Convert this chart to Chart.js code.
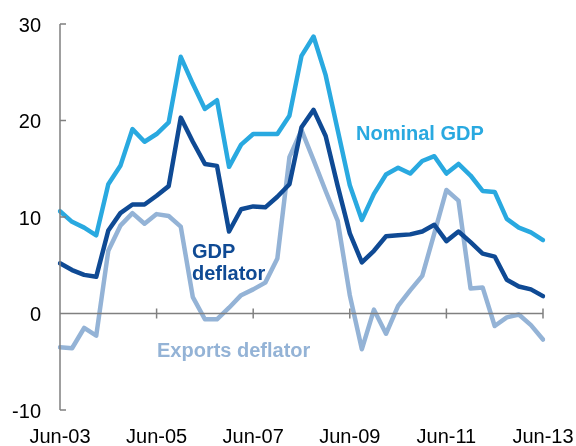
<!DOCTYPE html>
<html>
<head>
<meta charset="utf-8">
<script src="https://cdn.jsdelivr.net/npm/chart.js@4"></script>
<style>
    html, body { margin: 0; padding: 0; background: #fff; }
    #wrap { width: 576px; height: 446px; }
</style>
</head>
<body>
<div id="wrap"><canvas id="chart" width="576" height="446"></canvas></div>
<script>
const quarters = [
    'Jun-03', 'Sep-03', 'Dec-03', 'Mar-04', 'Jun-04', 'Sep-04', 'Dec-04', 'Mar-05',
    'Jun-05', 'Sep-05', 'Dec-05', 'Mar-06', 'Jun-06', 'Sep-06', 'Dec-06', 'Mar-07',
    'Jun-07', 'Sep-07', 'Dec-07', 'Mar-08', 'Jun-08', 'Sep-08', 'Dec-08', 'Mar-09',
    'Jun-09', 'Sep-09', 'Dec-09', 'Mar-10', 'Jun-10', 'Sep-10', 'Dec-10', 'Mar-11',
    'Jun-11', 'Sep-11', 'Dec-11', 'Mar-12', 'Jun-12', 'Sep-12', 'Dec-12', 'Mar-13',
    'Jun-13'
]

const nominalGdp = [
    10.6, 9.5, 8.9, 8.1, 13.4, 15.3, 19.1, 17.8, 18.6, 19.8,
    26.6, 23.8, 21.2, 22.1, 15.2, 17.5, 18.6, 18.6, 18.6, 20.5,
    26.7, 28.7, 24.7, 19.0, 13.3, 9.7, 12.4, 14.4, 15.1, 14.5,
    15.8, 16.3, 14.5, 15.5, 14.3, 12.7, 12.6, 9.8, 8.9, 8.4,
    7.6
]

const gdpDeflator = [
    5.2, 4.5, 4.0, 3.8, 8.6, 10.4, 11.3, 11.3, 12.2, 13.2,
    20.3, 17.8, 15.5, 15.3, 8.5, 10.8, 11.1, 11.0, 12.1, 13.4,
    19.3, 21.1, 18.4, 13.2, 8.3, 5.3, 6.5, 8.0, 8.1, 8.2,
    8.5, 9.2, 7.5, 8.5, 7.4, 6.2, 5.9, 3.5, 2.8, 2.5,
    1.8
]

const exportsDeflator = [
    -3.5, -3.6, -1.5, -2.3, 6.5, 9.1, 10.4, 9.3, 10.3, 10.1,
    9.0, 1.7, -0.6, -0.6, 0.6, 1.9, 2.5, 3.2, 5.7, 16.2,
    19.0, 15.9, 12.7, 9.6, 1.9, -3.7, 0.4, -2.1, 0.8, 2.4,
    3.9, 8.3, 12.8, 11.7, 2.6, 2.7, -1.3, -0.4, -0.1, -1.2,
    -2.7
]

const yTicks = [-10, 0, 10, 20, 30]
const xTickEvery = 8

const colNominal = '#29a9e0'
const colDeflator = '#0f4a94'
const colExports = '#94b3d6'
const axisCol = '#808080'
const FONT = "'Liberation Sans', Arial, sans-serif"

// axes drawn by hand: y axis with inside ticks, x axis on the zero line, tick labels
const axesPlugin = {
    id: 'axesPlugin',
    afterDatasetsDraw(chart) {
        const ctx = chart.ctx
        const x = chart.scales.x
        const y = chart.scales.y
        const left = x.getPixelForValue(0)
        const right = x.getPixelForValue(quarters.length - 1)
        const y0 = y.getPixelForValue(0)
        ctx.save()
        ctx.strokeStyle = axisCol
        ctx.lineWidth = 1.5
        ctx.beginPath()
        ctx.moveTo(left, y.getPixelForValue(30))
        ctx.lineTo(left, y.getPixelForValue(-10))
        yTicks.forEach(v => {
            const py = y.getPixelForValue(v)
            ctx.moveTo(left, py)
            ctx.lineTo(left + 6, py)
        })
        ctx.moveTo(left, y0)
        ctx.lineTo(right, y0)
        for (let i = xTickEvery; i < quarters.length; i += xTickEvery) {
            const px = x.getPixelForValue(i)
            ctx.moveTo(px, y0 - 5)
            ctx.lineTo(px, y0 + 5)
        }
        ctx.stroke()

        ctx.fillStyle = '#000'
        ctx.font = '20px ' + FONT
        ctx.textBaseline = 'alphabetic'
        ctx.textAlign = 'right'
        yTicks.forEach(v => {
            ctx.fillText(String(v), left - 19, y.getPixelForValue(v) + 7.5)
        })
        ctx.textAlign = 'center'
        for (let i = 0; i < quarters.length; i += xTickEvery) {
            ctx.fillText(quarters[i], x.getPixelForValue(i), 443)
        }
        ctx.restore()
    }
}

// series names written on the plot
const namesPlugin = {
    id: 'namesPlugin',
    afterDatasetsDraw(chart) {
        const ctx = chart.ctx
        ctx.save()
        ctx.font = 'bold 20px ' + FONT
        ctx.textBaseline = 'alphabetic'
        ctx.textAlign = 'left'
        ctx.fillStyle = colNominal
        ctx.fillText('Nominal GDP', 356, 140)
        ctx.fillStyle = colDeflator
        ctx.fillText('GDP', 192, 258)
        ctx.fillText('deflator', 192, 280)
        ctx.fillStyle = colExports
        ctx.fillText('Exports deflator', 157, 357)
        ctx.restore()
    }
}

const lineStyle = {
    borderWidth: 4.5,
    pointRadius: 0,
    tension: 0,
    borderJoinStyle: 'round',
    borderCapStyle: 'round',
    fill: false
}

new Chart(document.getElementById('chart'), {
    type: 'line',
    data: {
        labels: quarters,
        datasets: [
            { label: 'Nominal GDP', data: nominalGdp, borderColor: colNominal, ...lineStyle },
            { label: 'GDP deflator', data: gdpDeflator, borderColor: colDeflator, ...lineStyle },
            { label: 'Exports deflator', data: exportsDeflator, borderColor: colExports, ...lineStyle }
        ]
    },
    options: {
        responsive: false,
        animation: false,
        layout: { padding: { left: 0, right: 33, top: 24, bottom: 0 } },
        plugins: {
            legend: { display: false },
            tooltip: { enabled: false }
        },
        scales: {
            x: {
                offset: false,
                grid: { display: false, drawTicks: false },
                border: { display: false },
                ticks: { display: false },
                afterFit: (s) => { s.height = 36 }
            },
            y: {
                min: -10,
                max: 30,
                grid: { display: false, drawTicks: false },
                border: { display: false },
                ticks: { display: false, stepSize: 10 },
                afterFit: (s) => { s.width = 60 }
            }
        }
    },
    plugins: [axesPlugin, namesPlugin]
});
</script>
</body>
</html>
